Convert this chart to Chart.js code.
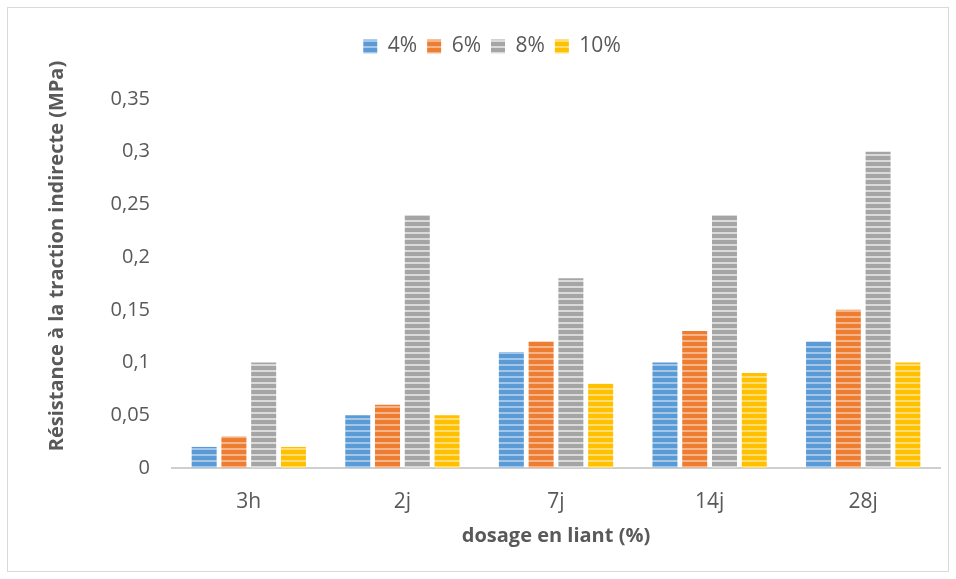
<!DOCTYPE html>
<html>
<head>
<meta charset="utf-8">
<script src="https://cdn.jsdelivr.net/npm/chart.js@4"></script>
<style>
  body { margin: 0; background: #fff; }
  #wrap { position: relative; width: 956px; height: 579px; }
  #frame { position: absolute; left: 7px; top: 7px; width: 940px; height: 563px; border: 1px solid #D9D9D9; pointer-events: none; }
</style>
</head>
<body>
<div id="wrap">
  <canvas id="chart" width="956" height="579"></canvas>
  <div id="frame"></div>
</div>
<script>
// données
const categories = ['3h', '2j', '7j', '14j', '28j'];
const seriesNames = ['4%', '6%', '8%', '10%'];
const dose4 = [0.02, 0.05, 0.11, 0.10, 0.12];
const dose6 = [0.03, 0.06, 0.12, 0.13, 0.15];
const dose8 = [0.10, 0.24, 0.18, 0.24, 0.30];
const dose10 = [0.02, 0.05, 0.08, 0.09, 0.10];
const yTicks = [0, 0.05, 0.1, 0.15, 0.2, 0.25, 0.3, 0.35];
const yTitle = 'Résistance à la traction indirecte (MPa)';
const xTitle = 'dosage en liant (%)';

const baseColors = ['#5B9BD5', '#ED7D31', '#A5A5A5', '#FFC000'];
const lightColors = ['#A4C6E8', '#F5B48A', '#DADADA', '#FFDD75'];

// motif rayé horizontal
function stripes(color, light) {
  const c = document.createElement('canvas');
  c.width = 6;
  c.height = 6;
  const ctx = c.getContext('2d');
  ctx.fillStyle = color;
  ctx.fillRect(0, 0, 6, 6);
  ctx.fillStyle = light;
  ctx.fillRect(0, 4, 6, 2);
  return ctx.createPattern(c, 'repeat');
}

const allData = [dose4, dose6, dose8, dose10];
const datasets = seriesNames.map((name, i) => ({
  label: name,
  data: allData[i],
  backgroundColor: stripes(baseColors[i], lightColors[i]),
  borderWidth: 0,
  categoryPercentage: 0.775,
  barPercentage: 0.84
}));

const textColor = '#595959';
const fontFamily = "'Open Sans', sans-serif";

// espace en plus sous la légende
const legendSpace = {
  id: 'legendSpace',
  afterInit(chart) {
    const lg = chart.legend;
    const fit = lg.fit;
    lg.fit = function () {
      fit.call(this);
      this.height += 32;
    };
  }
};

// titre de l'axe Y, un peu plus haut que le centre de l'axe
const yTitlePlugin = {
  id: 'yTitlePlugin',
  afterDraw(chart) {
    const ctx = chart.ctx;
    ctx.save();
    ctx.translate(57, 256);
    ctx.rotate(-Math.PI / 2);
    ctx.font = 'bold 20px ' + fontFamily;
    ctx.fillStyle = textColor;
    ctx.textAlign = 'center';
    ctx.textBaseline = 'middle';
    ctx.fillText(yTitle, 0, 0);
    ctx.restore();
  }
};

new Chart(document.getElementById('chart'), {
  type: 'bar',
  data: { labels: categories, datasets: datasets },
  plugins: [legendSpace, yTitlePlugin],
  options: {
    responsive: false,
    animation: false,
    layout: { padding: { left: 44, right: 16, top: 26, bottom: 0 } },
    plugins: {
      tooltip: { enabled: false },
      legend: {
        position: 'top',
        labels: {
          color: textColor,
          font: { family: fontFamily, size: 21 },
          boxWidth: 14,
          boxHeight: 14,
          padding: 10
        }
      }
    },
    scales: {
      x: {
        grid: { display: false },
        border: { display: true, color: '#CFCFCF', width: 2 },
        ticks: { color: textColor, font: { family: fontFamily, size: 21 }, padding: 13 },
        title: {
          display: true,
          text: xTitle,
          color: textColor,
          font: { family: fontFamily, size: 20, weight: 'bold' },
          padding: { top: 0, bottom: 31 }
        },
        afterFit(scale) { scale.height = 111; }
      },
      y: {
        min: 0,
        max: 0.35,
        grid: { display: false },
        border: { display: false },
        afterBuildTicks(scale) { scale.ticks = yTicks.map(v => ({ value: v })); },
        ticks: {
          color: textColor,
          font: { family: fontFamily, size: 20 },
          padding: 14,
          callback: v => String(+v.toFixed(2)).replace('.', ',')
        },
        afterFit(scale) { scale.width = 128; }
      }
    }
  }
});
</script>
</body>
</html>
